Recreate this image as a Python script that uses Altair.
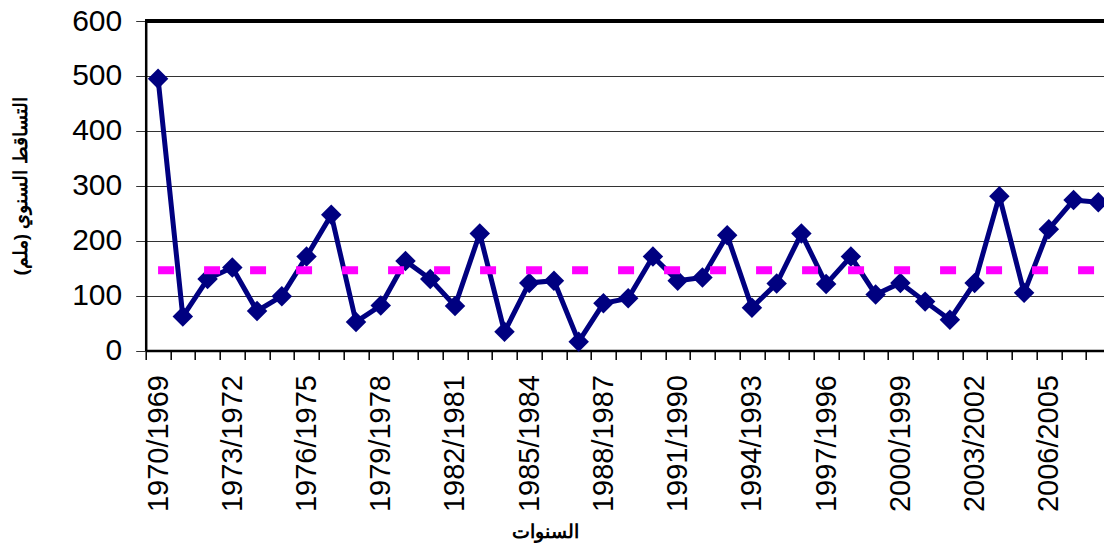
import altair as alt
import pandas as pd

# categories (hydrological years) as shown on the axis
seasons = [f"{y + 1}/{y}" for y in range(1969, 2008)]
# annual rainfall (mm)
rainfall = [495, 62, 130, 151, 72, 99, 171, 247, 52, 82,
            163, 130, 81, 213, 34, 123, 127, 16, 86, 95,
            171, 127, 133, 210, 78, 122, 213, 121, 171, 102,
            123, 89, 56, 123, 281, 105, 221, 274, 270]
# mean rainfall line
mean_value = 146
y_ticks = [0, 100, 200, 300, 400, 500, 600]

df = pd.DataFrame({
    "season": seasons,
    "rain": rainfall,
    "mean": [mean_value] * len(seasons),
})

RANGE = 965.0
STEP = RANGE / len(seasons)
Y_TITLE = "التساقط السنوي (ملم)"

xscale = alt.Scale(type="point", padding=0.5, range=[0, RANGE])
yscale = alt.Scale(domain=[0, 600])

x_axis = alt.Axis(
    labelAngle=-90,
    labelFontSize=29,
    labelFont="Liberation Sans",
    labelColor="black",
    labelPadding=15,
    labelOverlap=False,
    labelBound=False,
    labelExpr="(toNumber(substring(datum.label, 5, 9)) - 1969) % 3 == 0 ? datum.label : ''",
    tickOffset=-STEP / 2,
    labelOffset=STEP / 2,
    tickSize=9,
    tickWidth=1.5,
    tickColor="black",
    domainColor="black",
    domainWidth=2.5,
    titleFont="Liberation Sans",
    titleFontSize=19,
    titleFontWeight="bold",
    titleColor="black",
    titleX=399,
    titleY=181,
    titleAlign="center",
    titleBaseline="middle",
)

y_axis = alt.Axis(
    values=y_ticks,
    labelFontSize=30,
    labelFont="Liberation Sans",
    labelColor="black",
    labelPadding=14,
    tickSize=10,
    tickColor="#333333",
    tickWidth=1,
    domainColor="black",
    domainWidth=2.5,
    grid=True,
    gridColor="#333333",
    gridWidth=1,
    titleFont="Liberation Sans",
    titleFontSize=19,
    titleFontWeight="bold",
    titleColor="black",
    titleAngle=-90,
    titleX=-125.7,
    titleY=165,
    titleAlign="center",
    titleBaseline="middle",
)

x_enc = alt.X("season:O", sort=seasons, scale=xscale, title="السنوات", axis=x_axis)

rain_line = alt.Chart(df).mark_line(
    color="#000080",
    strokeWidth=5,
    point=alt.OverlayMarkDef(shape="diamond", size=420, filled=True, color="#000080", opacity=1),
).encode(
    x=x_enc,
    y=alt.Y("rain:Q", scale=yscale, title=Y_TITLE, axis=y_axis),
)

mean_line = alt.Chart(df).mark_line(
    color="#FF00FF",
    strokeWidth=8,
    strokeDash=[16, 30],
    strokeCap="butt",
).encode(
    x=x_enc,
    y=alt.Y("mean:Q", scale=yscale, title=Y_TITLE, axis=y_axis),
)

top_rule = alt.Chart(df).mark_rule(color="black", strokeWidth=2.5).encode(
    y=alt.YDatum(600, scale=yscale, title=Y_TITLE, axis=y_axis),
    x=alt.value(0),
    x2=alt.value(RANGE),
)

chart = alt.layer(rain_line, mean_line, top_rule).properties(
    width=958.3,
    height=329.5,
    autosize=alt.AutoSizeParams(type="none"),
    padding={"left": 145.7, "top": 21, "right": 0, "bottom": 196.5},
).configure_view(stroke=None).configure(background="white")

chart.save("out.html", embed_options={"renderer": "svg", "actions": False})
